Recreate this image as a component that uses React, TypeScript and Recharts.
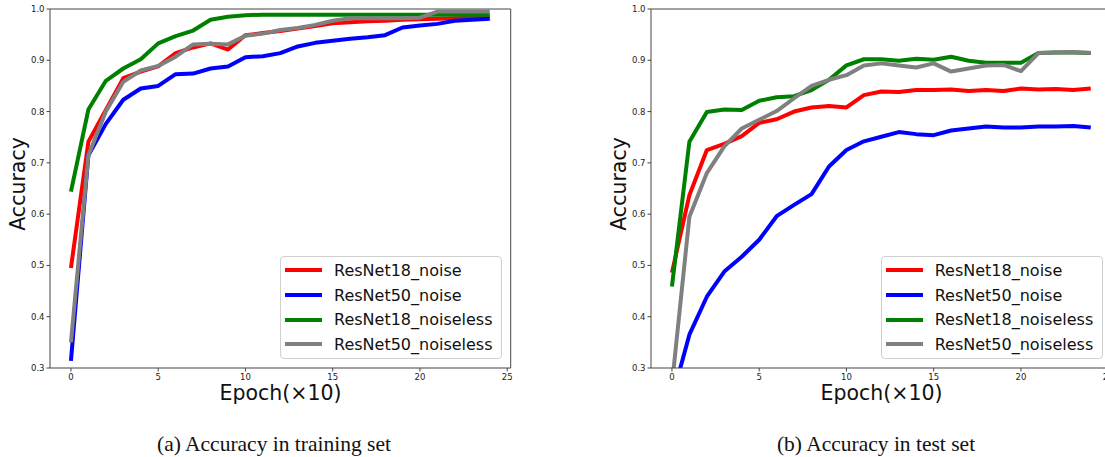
import { LineChart, Line, XAxis, YAxis, Legend, ReferenceLine } from "recharts";

const epochs = [0, 1, 2, 3, 4, 5, 6, 7, 8, 9, 10, 11, 12, 13, 14, 15, 16, 17, 18, 19, 20, 21, 22, 23, 24];
const xTicks = [0, 5, 10, 15, 20, 25];
const yTicks = [0.3, 0.4, 0.5, 0.6, 0.7, 0.8, 0.9, 1.0];

// (a) training set
const trainR18Noise = [0.495, 0.741, 0.803, 0.865, 0.878, 0.888, 0.914, 0.925, 0.933, 0.921, 0.949, 0.953, 0.957, 0.962, 0.967, 0.972, 0.974, 0.976, 0.977, 0.979, 0.980, 0.981, 0.982, 0.983, 0.984];
const trainR50Noise = [0.314, 0.715, 0.776, 0.823, 0.845, 0.850, 0.873, 0.874, 0.884, 0.888, 0.906, 0.908, 0.914, 0.927, 0.934, 0.938, 0.942, 0.945, 0.949, 0.964, 0.968, 0.971, 0.977, 0.979, 0.981];
const trainR18Clean = [0.644, 0.804, 0.860, 0.884, 0.902, 0.933, 0.947, 0.958, 0.979, 0.985, 0.988, 0.989, 0.989, 0.989, 0.989, 0.989, 0.989, 0.989, 0.989, 0.989, 0.989, 0.989, 0.989, 0.989, 0.989];
const trainR50Clean = [0.350, 0.715, 0.800, 0.858, 0.880, 0.889, 0.907, 0.931, 0.932, 0.931, 0.948, 0.952, 0.959, 0.963, 0.969, 0.977, 0.982, 0.982, 0.982, 0.982, 0.983, 0.995, 0.995, 0.995, 0.995];

// (b) test set
const testR18Noise = [0.486, 0.637, 0.725, 0.737, 0.752, 0.778, 0.785, 0.800, 0.808, 0.811, 0.808, 0.832, 0.839, 0.838, 0.842, 0.842, 0.843, 0.840, 0.842, 0.840, 0.845, 0.843, 0.844, 0.842, 0.845];
const testR50Noise = [0.24, 0.365, 0.439, 0.488, 0.517, 0.550, 0.596, 0.618, 0.639, 0.693, 0.725, 0.742, 0.751, 0.760, 0.756, 0.754, 0.763, 0.767, 0.771, 0.769, 0.769, 0.771, 0.771, 0.772, 0.769];
const testR18Clean = [0.459, 0.741, 0.799, 0.804, 0.803, 0.821, 0.828, 0.830, 0.842, 0.862, 0.890, 0.902, 0.902, 0.899, 0.903, 0.901, 0.907, 0.899, 0.895, 0.895, 0.895, 0.914, 0.915, 0.915, 0.914];
const testR50Clean = [0.267, 0.595, 0.680, 0.732, 0.767, 0.784, 0.801, 0.826, 0.850, 0.862, 0.871, 0.890, 0.894, 0.890, 0.886, 0.894, 0.878, 0.884, 0.890, 0.891, 0.879, 0.914, 0.915, 0.916, 0.914];

const seriesNames = ["ResNet18_noise", "ResNet50_noise", "ResNet18_noiseless", "ResNet50_noiseless"];
const seriesColors = ["#ff0000", "#0000ff", "#008000", "#808080"];

const buildRows = (r18n: number[], r50n: number[], r18c: number[], r50c: number[]) =>
  epochs.map((e, i) => ({ epoch: e, s0: r18n[i], s1: r50n[i], s2: r18c[i], s3: r50c[i] }));

const trainRows = buildRows(trainR18Noise, trainR50Noise, trainR18Clean, trainR50Clean);
const testRows = buildRows(testR18Noise, testR50Noise, testR18Clean, testR50Clean);

const FONT = "'DejaVu Sans', sans-serif";
const SPINE = "#444";

function LegendBox(props: any) {
  const items = [...(props.payload || [])].sort(
    (a: any, b: any) => seriesNames.indexOf(a.value) - seriesNames.indexOf(b.value)
  );
  return (
    <div
      style={{
        boxSizing: "border-box",
        width: "100%",
        height: "100%",
        border: "1px solid #d0d0d0",
        borderRadius: 4,
        background: "rgba(255,255,255,0.85)",
        padding: "1px 0 0 4px",
        fontFamily: FONT,
        fontSize: 16,
        color: "#111",
      }}
    >
      {items.map((it: any) => (
        <div key={it.value} style={{ display: "flex", alignItems: "center", height: 24.7 }}>
          <div style={{ width: 37, height: 4, background: it.color, marginRight: 12 }} />
          <span>{it.value}</span>
        </div>
      ))}
    </div>
  );
}

function Panel({ rows, legendLeft }: { rows: any[]; legendLeft: number }) {
  return (
    <LineChart
      width={521}
      height={457}
      data={rows}
      margin={{ top: 9, right: 9.3, bottom: 59, left: 0 }}
      style={{ fontFamily: FONT }}
    >
      <XAxis
        dataKey="epoch"
        type="number"
        domain={[-1.2, 25.2]}
        ticks={xTicks}
        allowDataOverflow
        height={30}
        tickSize={3.5}
        tickMargin={2}
        interval={0}
        stroke={SPINE}
        tick={{ fontSize: 8.5, fill: "#222" }}
      />
      <YAxis
        type="number"
        domain={[0.3, 1.0]}
        ticks={yTicks}
        allowDataOverflow
        width={51}
        tickSize={3.5}
        tickMargin={2}
        interval={0}
        stroke={SPINE}
        tickFormatter={(v: number) => v.toFixed(1)}
        tick={{ fontSize: 8.5, fill: "#222" }}
      />
      <ReferenceLine y={1.0} stroke={SPINE} strokeWidth={1} />
      <ReferenceLine x={25.2} stroke={SPINE} strokeWidth={1} />
      {seriesNames.map((name, k) => (
        <Line
          key={name}
          type="linear"
          dataKey={`s${k}`}
          name={name}
          stroke={seriesColors[k]}
          strokeWidth={4}
          strokeLinejoin="round"
          dot={false}
          activeDot={false}
          isAnimationActive={false}
        />
      ))}
      <Legend
        layout="vertical"
        align="center"
        verticalAlign="middle"
        content={<LegendBox />}
        wrapperStyle={{ left: legendLeft, top: 256, width: 222, height: 103 }}
      />
    </LineChart>
  );
}

const abs = (s: any) => ({ position: "absolute" as const, ...s });

export default function App() {
  return (
    <div style={{ position: "fixed", left: 0, top: 0, width: 1105, height: 457, overflow: "hidden", background: "#fff" }}>
      <div style={abs({ left: -1, top: 0 })}>
        <Panel rows={trainRows} legendLeft={281} />
      </div>
      <div style={abs({ left: 600, top: 0 })}>
        <Panel rows={testRows} legendLeft={280.7} />
      </div>

      <div style={abs({ left: 18, top: 184, fontFamily: FONT, fontSize: 20.5, color: "#111", transform: "translate(-50%,-50%) rotate(-90deg)", whiteSpace: "nowrap" })}>
        Accuracy
      </div>
      <div style={abs({ left: 619, top: 184, fontFamily: FONT, fontSize: 20.5, color: "#111", transform: "translate(-50%,-50%) rotate(-90deg)", whiteSpace: "nowrap" })}>
        Accuracy
      </div>
      <div style={abs({ left: 280.5, top: 381, fontFamily: FONT, fontSize: 20.5, color: "#111", transform: "translateX(-50%)", whiteSpace: "nowrap" })}>
        Epoch(×10)
      </div>
      <div style={abs({ left: 881.5, top: 381, fontFamily: FONT, fontSize: 20.5, color: "#111", transform: "translateX(-50%)", whiteSpace: "nowrap" })}>
        Epoch(×10)
      </div>

      <div style={abs({ left: 274, top: 432, fontFamily: "'Liberation Serif', serif", fontSize: 21.5, color: "#111", transform: "translateX(-50%)", whiteSpace: "nowrap" })}>
        (a) Accuracy in training set
      </div>
      <div style={abs({ left: 876, top: 432, fontFamily: "'Liberation Serif', serif", fontSize: 21.5, color: "#111", transform: "translateX(-50%)", whiteSpace: "nowrap" })}>
        (b) Accuracy in test set
      </div>
    </div>
  );
}
